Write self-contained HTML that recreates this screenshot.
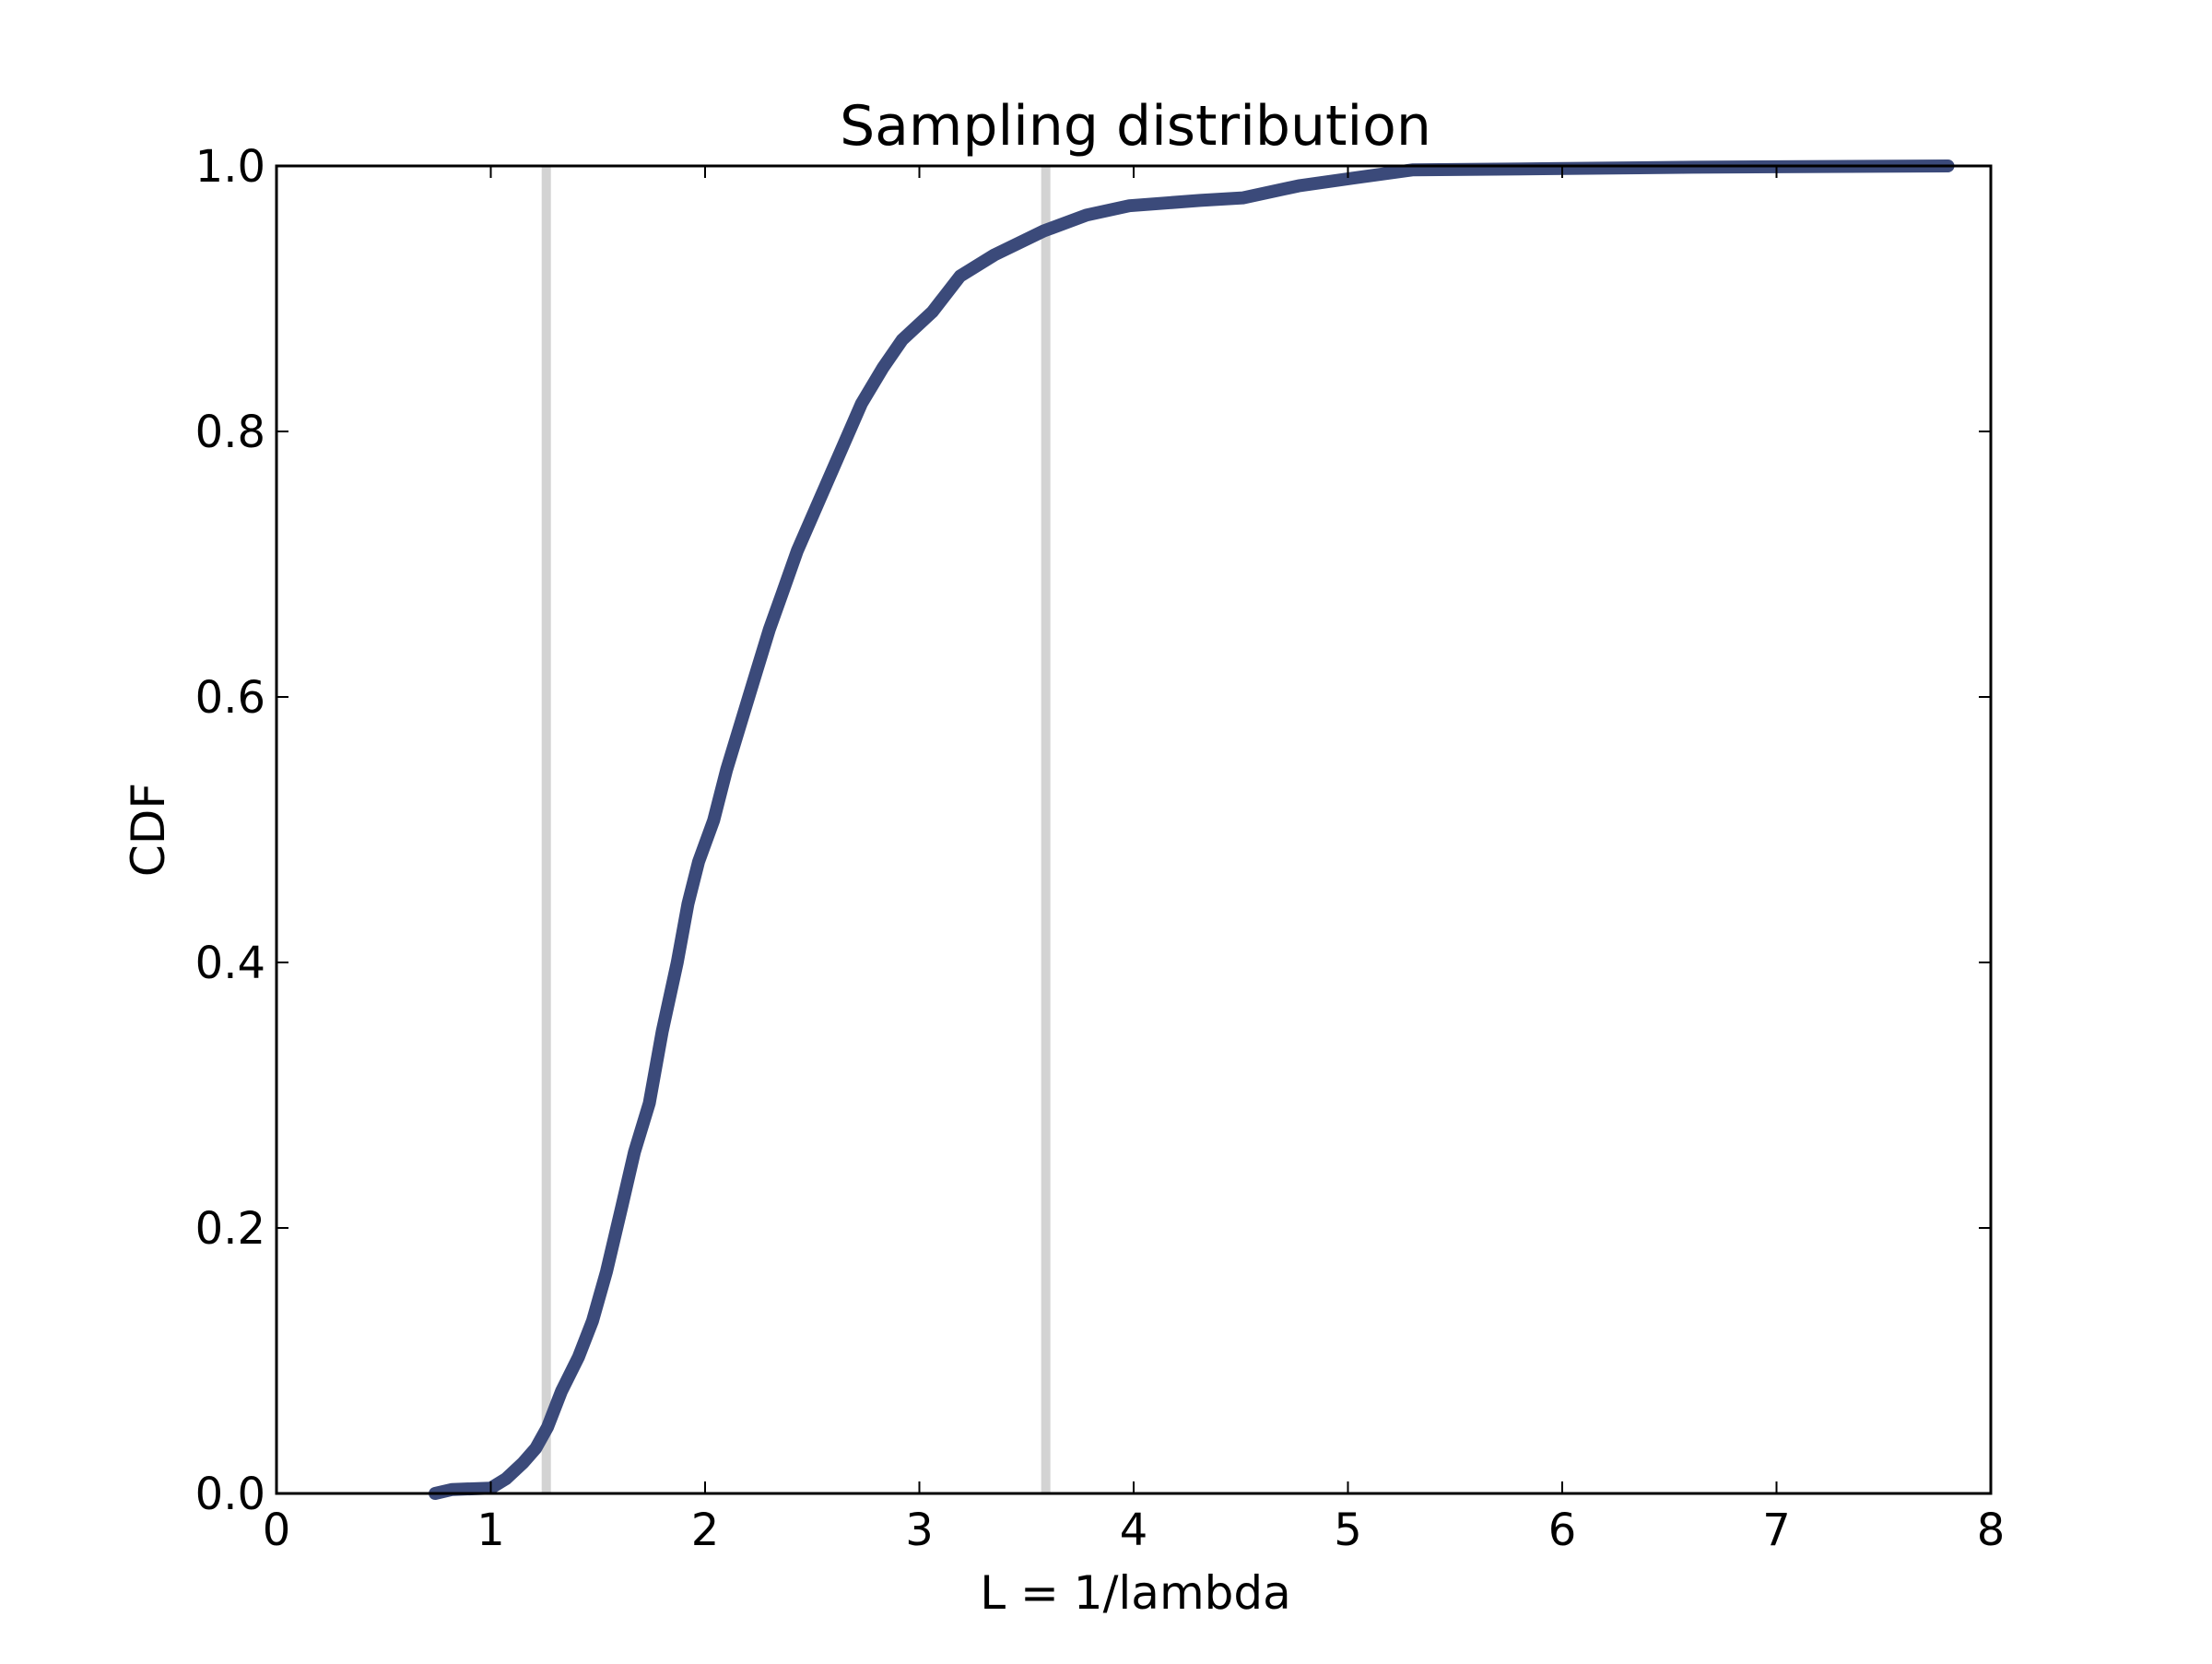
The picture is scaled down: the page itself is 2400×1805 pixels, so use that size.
<!DOCTYPE html>
<html><head><meta charset="utf-8"><style>
html,body{margin:0;padding:0;background:#fff}
svg text{font-family:"DejaVu Sans","Liberation Sans",sans-serif;fill:#000}
</style></head><body>
<svg id="chart" width="2400" height="1800" viewBox="0 0 2400 1800" xmlns="http://www.w3.org/2000/svg">
<rect width="2400" height="1800" fill="#fff"/>
<text x="1232" y="157" font-size="60" text-anchor="middle">Sampling distribution</text>
<text x="1232" y="1745" font-size="50" text-anchor="middle">L = 1/lambda</text>
<text transform="translate(178,900) rotate(-90)" font-size="50" text-anchor="middle">CDF</text>
<g id="marks"></g>
<g id="axes"></g>
</svg>
<script>
const xTicks = [0,1,2,3,4,5,6,7,8];
const yTicks = [0,0.2,0.4,0.6,0.8,1.0];
const yTickLabels = ["0.0","0.2","0.4","0.6","0.8","1.0"];
const refLines = [1.259, 3.59];
const cdfX = [0.74,0.82,1.0,1.07,1.15,1.21,1.265,1.33,1.41,1.475,1.54,1.61,1.67,1.74,1.80,1.87,1.92,1.97,2.04,2.10,2.17,2.23,2.30,2.36,2.43,2.53,2.63,2.73,2.83,2.92,3.06,3.19,3.35,3.58,3.78,3.98,4.31,4.51,4.77,5.03,5.30,5.96,6.61,7.80];
const cdfY = [0,0.003,0.004,0.011,0.023,0.034,0.05,0.077,0.103,0.13,0.167,0.215,0.257,0.294,0.348,0.40,0.444,0.476,0.507,0.545,0.582,0.614,0.651,0.678,0.71,0.747,0.784,0.821,0.848,0.869,0.89,0.917,0.933,0.951,0.963,0.970,0.974,0.976,0.985,0.991,0.997,0.998,0.999,1.0];

const L=300,R=2160,T=180,B=1620;
const sx=v=>L+(v-0)/(8-0)*(R-L);
const sy=v=>B-(v-0)/(1-0)*(B-T);
const NS="http://www.w3.org/2000/svg";
function mk(tag,attrs,parent){const e=document.createElementNS(NS,tag);for(const k in attrs)e.setAttribute(k,attrs[k]);parent.appendChild(e);return e;}
const marks=document.getElementById('marks'), axes=document.getElementById('axes');

refLines.forEach((v,i)=>{
  const l=mk('line',{x1:sx(v),x2:sx(v),y1:T,y2:B,stroke:'#d3d3d3','stroke-width':10},marks);
  
  
});
let d='';
cdfX.forEach((x,i)=>{d+=(i?'L':'M')+sx(x).toFixed(1)+' '+sy(cdfY[i]).toFixed(1);});
const p=mk('path',{d:d,fill:'none',stroke:'#3b4a7a','stroke-width':14,'stroke-linejoin':'round','stroke-linecap':'round'},marks);



const fr=mk('rect',{x:L,y:T,width:R-L,height:B-T,fill:'none',stroke:'#000','stroke-width':3},axes);



xTicks.forEach(v=>{
  const x=sx(v);
  mk('line',{x1:x,x2:x,y1:B,y2:B-13,stroke:'#000','stroke-width':2},axes);
  mk('line',{x1:x,x2:x,y1:T,y2:T+13,stroke:'#000','stroke-width':2},axes);
  const t=mk('text',{x:x,y:B+56,'font-size':48,'text-anchor':'middle'},axes);
  t.textContent=String(v);
  
  
});
yTicks.forEach((v,i)=>{
  const y=sy(v);
  mk('line',{x1:L,x2:L+13,y1:y,y2:y,stroke:'#000','stroke-width':2},axes);
  mk('line',{x1:R,x2:R-13,y1:y,y2:y,stroke:'#000','stroke-width':2},axes);
  const t=mk('text',{x:L-12,y:y+17,'font-size':48,'text-anchor':'end'},axes);
  t.textContent=yTickLabels[i];
  
  
});
</script>
</body></html>
